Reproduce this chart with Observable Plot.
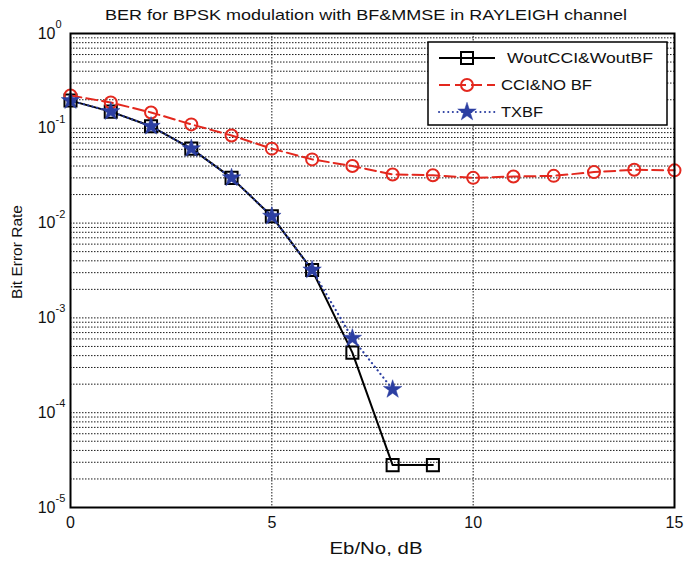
<!DOCTYPE html>
<html>
<head>
<meta charset="utf-8">
<script src="https://cdn.jsdelivr.net/npm/d3@7"></script>
<script src="https://cdn.jsdelivr.net/npm/@observablehq/plot@0.6"></script>
<style>
  body { margin: 0; background: #fff; }
  svg { font-family: "Liberation Sans", Arial, Helvetica, sans-serif; }
</style>
</head>
<body>
<div id="chart"></div>
<script>
// ---- data ----
const titleText = "BER for BPSK modulation with BF&MMSE in RAYLEIGH channel";
const xLabel = "Eb/No, dB";
const yLabel = "Bit Error Rate";
const seriesNames = ["WoutCCI&WoutBF", "CCI&NO BF", "TXBF"];

const ebnoA = [0, 1, 2, 3, 4, 5, 6, 7, 8, 9];
const berA  = [0.196, 0.150, 0.105, 0.061, 0.030, 0.0118, 0.0032, 0.00043, 2.8e-5, 2.8e-5];

const ebnoB = [0, 1, 2, 3, 4, 5, 6, 7, 8, 9, 10, 11, 12, 13, 14, 15];
const berB  = [0.222, 0.187, 0.147, 0.110, 0.084, 0.061, 0.047, 0.040, 0.0326, 0.0320, 0.0300, 0.0310, 0.0315, 0.0345, 0.0365, 0.0360];

const ebnoC = [0, 1, 2, 3, 4, 5, 6, 7, 8];
const berC  = [0.196, 0.150, 0.105, 0.061, 0.030, 0.0118, 0.0032, 0.00061, 0.000176];

const xTicks = [0, 5, 10, 15];
const xGrid = [5, 10];
const yTicks = [1, 1e-1, 1e-2, 1e-3, 1e-4, 1e-5];
const yExps = ["0", "-1", "-2", "-3", "-4", "-5"];

// ---- build ----
const W = 686, H = 561;
const mL = 70, mR = 12, mT = 33, mB = 54;
const red = "#e3281e", blue = "#2c3fa2";

const minorY = [];
for (let e = -5; e < 0; e++) for (let m = 1; m <= 9; m++) minorY.push(m * Math.pow(10, e));

const A = ebnoA.map((x, i) => ({x, y: berA[i]}));
const B = ebnoB.map((x, i) => ({x, y: berB[i]}));
const C = ebnoC.map((x, i) => ({x, y: berC[i]}));
const yT = yTicks.map((v, i) => ({v, e: yExps[i]}));

const plot = Plot.plot({
  width: W, height: H,
  marginLeft: mL, marginRight: mR, marginTop: mT, marginBottom: mB,
  style: {fontFamily: '"Liberation Sans", Arial, sans-serif', background: "#fff"},
  x: {domain: [0, 15], axis: null},
  y: {type: "log", domain: [1e-5, 1], axis: null},
  marks: [
    Plot.ruleY(minorY.slice(1), {stroke: "#000", strokeWidth: 1, strokeDasharray: "1.5,1.5", strokeOpacity: 0.9}),
    Plot.ruleX(xGrid, {stroke: "#000", strokeWidth: 1, strokeDasharray: "1.5,1.5", strokeOpacity: 0.9}),
    Plot.axisX(xTicks, {tickSize: 0, tickPadding: 9, fontSize: 16, fill: "#111", label: null}),
    Plot.text(yT, {y: "v", text: () => "10", frameAnchor: "left", dx: -15, textAnchor: "end", fontSize: 16, fill: "#111"}),
    Plot.text(yT, {y: "v", text: "e", frameAnchor: "left", dx: -15, dy: -9, textAnchor: "start", fontSize: 11, fill: "#111"}),
    // series
    Plot.line(A, {x: "x", y: "y", stroke: "#000", strokeWidth: 2}),
    Plot.dot(A, {x: "x", y: "y", symbol: "square", r: 6.8, stroke: "#000", strokeWidth: 2, fill: "none"}),
    Plot.line(B, {x: "x", y: "y", stroke: red, strokeWidth: 2, strokeDasharray: "11,5"}),
    Plot.dot(B, {x: "x", y: "y", symbol: "circle", r: 6, stroke: red, strokeWidth: 2, fill: "none"}),
    Plot.line(C, {x: "x", y: "y", stroke: blue, strokeWidth: 2.2, strokeDasharray: "0.1,4.5", strokeLinecap: "round"}),
    Plot.dot(C, {x: "x", y: "y", symbol: "star", r: 5.8, fill: blue, stroke: blue, strokeWidth: 0.5}),
    Plot.frame({stroke: "#000", strokeWidth: 2})
  ]
});

const svg = d3.select(plot);
function addText(x, y, str, size, len, anchor) {
  return svg.append("text").attr("x", x).attr("y", y).attr("dy", "0.35em")
    .attr("text-anchor", anchor || "middle").attr("font-size", size).attr("fill", "#111")
    .attr("textLength", len).attr("lengthAdjust", "spacingAndGlyphs").text(str);
}
// title
addText(366, 15, titleText, 14.5, 522);
// x label
addText(376, 548, xLabel, 17, 93);
// y label
svg.append("text").attr("transform", `translate(17,252) rotate(-90)`).attr("dy", "0.35em")
  .attr("text-anchor", "middle").attr("font-size", 15.5).attr("fill", "#111").text(yLabel);

// legend
const lg = svg.append("g");
const lx = 428, ly = 42, lw = 239, lh = 83;
lg.append("rect").attr("x", lx).attr("y", ly).attr("width", lw).attr("height", lh)
  .attr("fill", "#fff").attr("stroke", "#000").attr("stroke-width", 1.5);
const rows = [
  {name: seriesNames[0], color: "#000", dash: null, sym: "square", tx: 507, len: 146},
  {name: seriesNames[1], color: red, dash: "11,5", sym: "circle", tx: 501, len: 91},
  {name: seriesNames[2], color: blue, dash: "0.1,4.5", sym: "star", tx: 501, len: 42}
];
rows.forEach((r, i) => {
  const cy = 58 + i * 27;
  const ln = lg.append("line").attr("x1", 439).attr("x2", 495).attr("y1", cy).attr("y2", cy)
    .attr("stroke", r.color).attr("stroke-width", 2).attr("stroke-linecap", r.sym === "star" ? "round" : "butt");
  if (r.dash) ln.attr("stroke-dasharray", r.dash);
  const mx = 467;
  if (r.sym === "square") {
    lg.append("rect").attr("x", mx - 6).attr("y", cy - 6).attr("width", 12).attr("height", 12)
      .attr("fill", "none").attr("stroke", "#000").attr("stroke-width", 2);
  } else if (r.sym === "circle") {
    lg.append("circle").attr("cx", mx).attr("cy", cy).attr("r", 6)
      .attr("fill", "none").attr("stroke", red).attr("stroke-width", 2);
  } else {
    lg.append("path").attr("d", d3.symbol(d3.symbolStar, 106)()).attr("transform", `translate(${mx},${cy})`)
      .attr("fill", blue).attr("stroke", blue).attr("stroke-width", 0.5);
  }
  lg.append("text").attr("x", r.tx).attr("y", cy).attr("dy", "0.35em").attr("text-anchor", "start")
    .attr("font-size", 15.5).attr("fill", "#111")
    .attr("textLength", r.len).attr("lengthAdjust", "spacingAndGlyphs").text(r.name);
});

document.getElementById("chart").appendChild(plot);
</script>
</body>
</html>
